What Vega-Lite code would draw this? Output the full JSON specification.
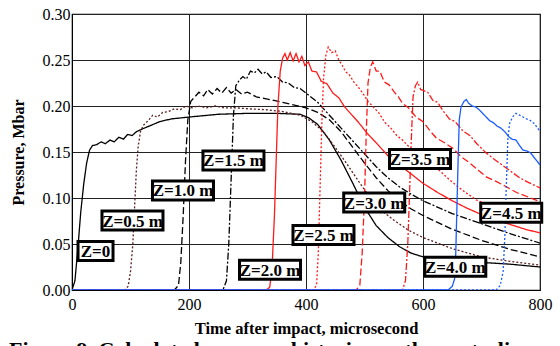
{
"$schema":"https://vega.github.io/schema/vega-lite/v6.json",
"width":468,"height":276,
"autosize":{"type":"none"},
"padding":{"left":72,"top":14,"right":20,"bottom":56},
"config":{"view":{"stroke":"#000","strokeWidth":1.2},"font":"Liberation Serif",
"axis":{"labelFont":"Liberation Serif","titleFont":"Liberation Serif","labelColor":"#000","titleColor":"#000","domainColor":"#000","gridColor":"#222","gridOpacity":1,"gridWidth":1,"ticks":false}},
"title":{"text":"Figure 9. Calculated pressure histories on the centerline","orient":"bottom","anchor":"start","frame":"group","dx":-63,"offset":3,"fontSize":22,"fontWeight":"bold","font":"Liberation Serif","color":"#000"},
"datasets":{
"curves":[
{"z":0,"t":0,"p":0},{"z":0,"t":5,"p":0.01},{"z":0,"t":10,"p":0.045},{"z":0,"t":15,"p":0.085},{"z":0,"t":20,"p":0.115},{"z":0,"t":25,"p":0.138},{"z":0,"t":30,"p":0.152},{"z":0,"t":35,"p":0.157},{"z":0,"t":42,"p":0.158},{"z":0,"t":50,"p":0.161},{"z":0,"t":57,"p":0.159},{"z":0,"t":65,"p":0.163},{"z":0,"t":72,"p":0.161},{"z":0,"t":80,"p":0.166},{"z":0,"t":88,"p":0.164},{"z":0,"t":95,"p":0.169},{"z":0,"t":103,"p":0.168},{"z":0,"t":110,"p":0.172},{"z":0,"t":120,"p":0.175},{"z":0,"t":135,"p":0.179},{"z":0,"t":150,"p":0.183},{"z":0,"t":170,"p":0.186},{"z":0,"t":200,"p":0.188},{"z":0,"t":250,"p":0.191},{"z":0,"t":300,"p":0.192},{"z":0,"t":350,"p":0.192},{"z":0,"t":390,"p":0.191},{"z":0,"t":405,"p":0.187},{"z":0,"t":420,"p":0.18},{"z":0,"t":440,"p":0.163},{"z":0,"t":460,"p":0.141},{"z":0,"t":480,"p":0.116},{"z":0,"t":500,"p":0.09},{"z":0,"t":520,"p":0.07},{"z":0,"t":540,"p":0.057},{"z":0,"t":560,"p":0.047},{"z":0,"t":580,"p":0.04},{"z":0,"t":600,"p":0.036},{"z":0,"t":650,"p":0.033},{"z":0,"t":700,"p":0.03},{"z":0,"t":750,"p":0.028},{"z":0,"t":800,"p":0.025},
{"z":0.5,"t":0,"p":0},{"z":0.5,"t":90,"p":0},{"z":0.5,"t":96,"p":0.004},{"z":0.5,"t":100,"p":0.02},{"z":0.5,"t":104,"p":0.05},{"z":0.5,"t":107,"p":0.09},{"z":0.5,"t":110,"p":0.13},{"z":0.5,"t":113,"p":0.155},{"z":0.5,"t":117,"p":0.172},{"z":0.5,"t":122,"p":0.179},{"z":0.5,"t":130,"p":0.184},{"z":0.5,"t":138,"p":0.19},{"z":0.5,"t":146,"p":0.188},{"z":0.5,"t":155,"p":0.193},{"z":0.5,"t":165,"p":0.194},{"z":0.5,"t":175,"p":0.197},{"z":0.5,"t":185,"p":0.196},{"z":0.5,"t":195,"p":0.2},{"z":0.5,"t":205,"p":0.198},{"z":0.5,"t":215,"p":0.2},{"z":0.5,"t":230,"p":0.198},{"z":0.5,"t":245,"p":0.2},{"z":0.5,"t":260,"p":0.198},{"z":0.5,"t":280,"p":0.198},{"z":0.5,"t":300,"p":0.197},{"z":0.5,"t":330,"p":0.196},{"z":0.5,"t":360,"p":0.194},{"z":0.5,"t":390,"p":0.19},{"z":0.5,"t":410,"p":0.183},{"z":0.5,"t":430,"p":0.172},{"z":0.5,"t":450,"p":0.155},{"z":0.5,"t":470,"p":0.137},{"z":0.5,"t":490,"p":0.118},{"z":0.5,"t":510,"p":0.1},{"z":0.5,"t":530,"p":0.086},{"z":0.5,"t":550,"p":0.076},{"z":0.5,"t":575,"p":0.065},{"z":0.5,"t":600,"p":0.057},{"z":0.5,"t":650,"p":0.045},{"z":0.5,"t":700,"p":0.036},{"z":0.5,"t":750,"p":0.031},{"z":0.5,"t":800,"p":0.027},
{"z":1,"t":0,"p":0},{"z":1,"t":175,"p":0},{"z":1,"t":182,"p":0.005},{"z":1,"t":186,"p":0.03},{"z":1,"t":190,"p":0.08},{"z":1,"t":194,"p":0.14},{"z":1,"t":198,"p":0.185},{"z":1,"t":203,"p":0.205},{"z":1,"t":210,"p":0.21},{"z":1,"t":217,"p":0.215},{"z":1,"t":225,"p":0.211},{"z":1,"t":232,"p":0.218},{"z":1,"t":240,"p":0.213},{"z":1,"t":248,"p":0.219},{"z":1,"t":256,"p":0.214},{"z":1,"t":264,"p":0.22},{"z":1,"t":272,"p":0.214},{"z":1,"t":280,"p":0.218},{"z":1,"t":290,"p":0.213},{"z":1,"t":300,"p":0.215},{"z":1,"t":315,"p":0.21},{"z":1,"t":330,"p":0.208},{"z":1,"t":345,"p":0.206},{"z":1,"t":360,"p":0.204},{"z":1,"t":380,"p":0.201},{"z":1,"t":400,"p":0.198},{"z":1,"t":420,"p":0.193},{"z":1,"t":440,"p":0.185},{"z":1,"t":460,"p":0.172},{"z":1,"t":480,"p":0.155},{"z":1,"t":500,"p":0.138},{"z":1,"t":520,"p":0.122},{"z":1,"t":540,"p":0.108},{"z":1,"t":560,"p":0.097},{"z":1,"t":580,"p":0.088},{"z":1,"t":600,"p":0.081},{"z":1,"t":650,"p":0.066},{"z":1,"t":700,"p":0.054},{"z":1,"t":750,"p":0.044},{"z":1,"t":800,"p":0.036},
{"z":1.5,"t":0,"p":0},{"z":1.5,"t":258,"p":0},{"z":1.5,"t":264,"p":0.01},{"z":1.5,"t":268,"p":0.05},{"z":1.5,"t":272,"p":0.12},{"z":1.5,"t":276,"p":0.19},{"z":1.5,"t":280,"p":0.222},{"z":1.5,"t":286,"p":0.228},{"z":1.5,"t":292,"p":0.232},{"z":1.5,"t":298,"p":0.229},{"z":1.5,"t":305,"p":0.238},{"z":1.5,"t":312,"p":0.236},{"z":1.5,"t":318,"p":0.24},{"z":1.5,"t":325,"p":0.235},{"z":1.5,"t":332,"p":0.237},{"z":1.5,"t":340,"p":0.231},{"z":1.5,"t":350,"p":0.232},{"z":1.5,"t":360,"p":0.226},{"z":1.5,"t":370,"p":0.225},{"z":1.5,"t":380,"p":0.22},{"z":1.5,"t":390,"p":0.219},{"z":1.5,"t":400,"p":0.214},{"z":1.5,"t":420,"p":0.204},{"z":1.5,"t":440,"p":0.19},{"z":1.5,"t":460,"p":0.176},{"z":1.5,"t":480,"p":0.162},{"z":1.5,"t":500,"p":0.148},{"z":1.5,"t":520,"p":0.134},{"z":1.5,"t":540,"p":0.122},{"z":1.5,"t":560,"p":0.112},{"z":1.5,"t":580,"p":0.104},{"z":1.5,"t":600,"p":0.097},{"z":1.5,"t":650,"p":0.083},{"z":1.5,"t":700,"p":0.072},{"z":1.5,"t":750,"p":0.061},{"z":1.5,"t":800,"p":0.051},
{"z":2,"t":0,"p":0},{"z":2,"t":332,"p":0},{"z":2,"t":338,"p":0.003},{"z":2,"t":342,"p":0.025},{"z":2,"t":346,"p":0.08},{"z":2,"t":349,"p":0.14},{"z":2,"t":352,"p":0.2},{"z":2,"t":356,"p":0.238},{"z":2,"t":360,"p":0.252},{"z":2,"t":364,"p":0.257},{"z":2,"t":368,"p":0.25},{"z":2,"t":373,"p":0.258},{"z":2,"t":378,"p":0.249},{"z":2,"t":383,"p":0.257},{"z":2,"t":388,"p":0.248},{"z":2,"t":393,"p":0.254},{"z":2,"t":398,"p":0.244},{"z":2,"t":404,"p":0.248},{"z":2,"t":410,"p":0.238},{"z":2,"t":418,"p":0.237},{"z":2,"t":426,"p":0.227},{"z":2,"t":436,"p":0.224},{"z":2,"t":446,"p":0.214},{"z":2,"t":456,"p":0.209},{"z":2,"t":466,"p":0.199},{"z":2,"t":476,"p":0.192},{"z":2,"t":490,"p":0.182},{"z":2,"t":505,"p":0.17},{"z":2,"t":520,"p":0.16},{"z":2,"t":540,"p":0.146},{"z":2,"t":560,"p":0.136},{"z":2,"t":580,"p":0.126},{"z":2,"t":600,"p":0.116},{"z":2,"t":625,"p":0.106},{"z":2,"t":650,"p":0.097},{"z":2,"t":675,"p":0.089},{"z":2,"t":700,"p":0.082},{"z":2,"t":725,"p":0.076},{"z":2,"t":750,"p":0.071},{"z":2,"t":775,"p":0.066},{"z":2,"t":800,"p":0.062},
{"z":2.5,"t":0,"p":0},{"z":2.5,"t":412,"p":0},{"z":2.5,"t":418,"p":0.005},{"z":2.5,"t":421,"p":0.04},{"z":2.5,"t":424,"p":0.11},{"z":2.5,"t":427,"p":0.18},{"z":2.5,"t":430,"p":0.23},{"z":2.5,"t":434,"p":0.255},{"z":2.5,"t":438,"p":0.264},{"z":2.5,"t":444,"p":0.258},{"z":2.5,"t":450,"p":0.26},{"z":2.5,"t":456,"p":0.25},{"z":2.5,"t":462,"p":0.244},{"z":2.5,"t":468,"p":0.237},{"z":2.5,"t":474,"p":0.234},{"z":2.5,"t":482,"p":0.226},{"z":2.5,"t":490,"p":0.22},{"z":2.5,"t":498,"p":0.213},{"z":2.5,"t":506,"p":0.205},{"z":2.5,"t":515,"p":0.199},{"z":2.5,"t":525,"p":0.192},{"z":2.5,"t":535,"p":0.182},{"z":2.5,"t":545,"p":0.176},{"z":2.5,"t":555,"p":0.168},{"z":2.5,"t":565,"p":0.163},{"z":2.5,"t":577,"p":0.155},{"z":2.5,"t":590,"p":0.149},{"z":2.5,"t":600,"p":0.143},{"z":2.5,"t":615,"p":0.137},{"z":2.5,"t":628,"p":0.13},{"z":2.5,"t":645,"p":0.12},{"z":2.5,"t":660,"p":0.112},{"z":2.5,"t":675,"p":0.105},{"z":2.5,"t":691,"p":0.098},{"z":2.5,"t":710,"p":0.093},{"z":2.5,"t":730,"p":0.088},{"z":2.5,"t":750,"p":0.084},{"z":2.5,"t":775,"p":0.079},{"z":2.5,"t":800,"p":0.075},
{"z":3,"t":0,"p":0},{"z":3,"t":486,"p":0},{"z":3,"t":492,"p":0.005},{"z":3,"t":496,"p":0.04},{"z":3,"t":500,"p":0.1},{"z":3,"t":503,"p":0.17},{"z":3,"t":506,"p":0.225},{"z":3,"t":510,"p":0.242},{"z":3,"t":514,"p":0.248},{"z":3,"t":520,"p":0.238},{"z":3,"t":526,"p":0.238},{"z":3,"t":534,"p":0.226},{"z":3,"t":542,"p":0.223},{"z":3,"t":551,"p":0.215},{"z":3,"t":558,"p":0.21},{"z":3,"t":565,"p":0.203},{"z":3,"t":575,"p":0.198},{"z":3,"t":588,"p":0.188},{"z":3,"t":600,"p":0.183},{"z":3,"t":612,"p":0.173},{"z":3,"t":623,"p":0.165},{"z":3,"t":637,"p":0.16},{"z":3,"t":651,"p":0.154},{"z":3,"t":665,"p":0.145},{"z":3,"t":680,"p":0.138},{"z":3,"t":695,"p":0.13},{"z":3,"t":708,"p":0.123},{"z":3,"t":725,"p":0.118},{"z":3,"t":740,"p":0.113},{"z":3,"t":760,"p":0.106},{"z":3,"t":780,"p":0.101},{"z":3,"t":800,"p":0.096},
{"z":3.5,"t":0,"p":0},{"z":3.5,"t":565,"p":0},{"z":3.5,"t":570,"p":0.01},{"z":3.5,"t":574,"p":0.05},{"z":3.5,"t":577,"p":0.105},{"z":3.5,"t":580,"p":0.163},{"z":3.5,"t":583,"p":0.21},{"z":3.5,"t":587,"p":0.222},{"z":3.5,"t":591,"p":0.226},{"z":3.5,"t":596,"p":0.218},{"z":3.5,"t":600,"p":0.217},{"z":3.5,"t":608,"p":0.215},{"z":3.5,"t":617,"p":0.206},{"z":3.5,"t":625,"p":0.204},{"z":3.5,"t":634,"p":0.195},{"z":3.5,"t":645,"p":0.186},{"z":3.5,"t":655,"p":0.183},{"z":3.5,"t":668,"p":0.173},{"z":3.5,"t":680,"p":0.168},{"z":3.5,"t":692,"p":0.159},{"z":3.5,"t":708,"p":0.149},{"z":3.5,"t":720,"p":0.143},{"z":3.5,"t":735,"p":0.136},{"z":3.5,"t":748,"p":0.13},{"z":3.5,"t":765,"p":0.122},{"z":3.5,"t":780,"p":0.117},{"z":3.5,"t":800,"p":0.111},
{"z":4,"t":0,"p":0},{"z":4,"t":643,"p":0},{"z":4,"t":650,"p":0.004},{"z":4,"t":654,"p":0.012},{"z":4,"t":656,"p":0.04},{"z":4,"t":658,"p":0.09},{"z":4,"t":660,"p":0.14},{"z":4,"t":662,"p":0.185},{"z":4,"t":665,"p":0.199},{"z":4,"t":670,"p":0.205},{"z":4,"t":674,"p":0.207},{"z":4,"t":678,"p":0.203},{"z":4,"t":684,"p":0.2},{"z":4,"t":690,"p":0.199},{"z":4,"t":696,"p":0.196},{"z":4,"t":702,"p":0.192},{"z":4,"t":708,"p":0.188},{"z":4,"t":714,"p":0.184},{"z":4,"t":720,"p":0.182},{"z":4,"t":727,"p":0.178},{"z":4,"t":733,"p":0.176},{"z":4,"t":740,"p":0.172},{"z":4,"t":746,"p":0.167},{"z":4,"t":752,"p":0.164},{"z":4,"t":759,"p":0.163},{"z":4,"t":765,"p":0.157},{"z":4,"t":771,"p":0.152},{"z":4,"t":778,"p":0.151},{"z":4,"t":784,"p":0.149},{"z":4,"t":790,"p":0.144},{"z":4,"t":800,"p":0.136},
{"z":4.5,"t":0,"p":0},{"z":4.5,"t":725,"p":0},{"z":4.5,"t":732,"p":0.005},{"z":4.5,"t":737,"p":0.02},{"z":4.5,"t":740,"p":0.06},{"z":4.5,"t":742,"p":0.105},{"z":4.5,"t":745,"p":0.163},{"z":4.5,"t":748,"p":0.181},{"z":4.5,"t":753,"p":0.188},{"z":4.5,"t":759,"p":0.192},{"z":4.5,"t":765,"p":0.19},{"z":4.5,"t":771,"p":0.188},{"z":4.5,"t":777,"p":0.186},{"z":4.5,"t":782,"p":0.185},{"z":4.5,"t":790,"p":0.181},{"z":4.5,"t":796,"p":0.176},{"z":4.5,"t":800,"p":0.172}
],
"labels":[
{"label":"Z=0","t":40.2,"p":0.0424},
{"label":"Z=0.5 m","t":103.4,"p":0.0755},
{"label":"Z=1.0 m","t":189.7,"p":0.1082},
{"label":"Z=1.5 m","t":276,"p":0.1408},
{"label":"Z=2.0 m","t":338.5,"p":0.0221},
{"label":"Z=2.5 m","t":429.9,"p":0.0598},
{"label":"Z=3.0 m","t":516.6,"p":0.0951},
{"label":"Z=3.5 m","t":594.9,"p":0.1424},
{"label":"Z=4.0 m","t":655.2,"p":0.0253},
{"label":"Z=4.5 m","t":750.8,"p":0.0839}
]},
"encoding":{
"x":{"field":"t","type":"quantitative","scale":{"domain":[0,800],"nice":false},"axis":{"values":[0,200,400,600,800],"title":"Time after impact, microsecond","titleFontSize":16.5,"titleFontWeight":"bold","titlePadding":8,"labelFontSize":16,"labelPadding":6,"labelFlush":false}},
"y":{"field":"p","type":"quantitative","scale":{"domain":[0,0.3],"nice":false},"axis":{"values":[0,0.05,0.1,0.15,0.2,0.25,0.3],"format":".2f","title":"Pressure, Mbar","titleFontSize":16,"titleFontWeight":"bold","titlePadding":16,"labelFontSize":16,"labelPadding":2,"labelFlush":false}}
},
"layer":[
{"data":{"name":"curves"},"transform":[{"filter":{"field":"z","oneOf":[0,0.5,1,1.5]}}],"mark":{"type":"line","strokeWidth":1.3,"clip":true},
"encoding":{
"color":{"field":"z","type":"nominal","scale":{"domain":[0,0.5,1,1.5,2,2.5,3,3.5,4,4.5],"range":["#000000","#5c1f1f","#000000","#000000","#ff1a1a","#ff1a1a","#ff1a1a","#ff1a1a","#1a5cff","#1a5cff"]},"legend":null},
"strokeDash":{"field":"z","type":"nominal","scale":{"domain":[0,0.5,1,1.5,2,2.5,3,3.5,4,4.5],"range":[[1,0],[2,2],[7,3],[7,2,2,2],[1,0],[2,2],[7,3],[7,2,2,2],[1,0],[2,2]]},"legend":null}}},
{"data":{"name":"curves"},"transform":[{"filter":{"field":"z","oneOf":[2,2.5,3,3.5]}}],"mark":{"type":"line","strokeWidth":1.3,"clip":true},
"encoding":{
"color":{"field":"z","type":"nominal","legend":null},
"strokeDash":{"field":"z","type":"nominal","legend":null}}},
{"data":{"name":"curves"},"transform":[{"filter":{"field":"z","oneOf":[4,4.5]}}],"mark":{"type":"line","strokeWidth":1.3,"clip":true},
"encoding":{
"color":{"field":"z","type":"nominal","legend":null},
"strokeDash":{"field":"z","type":"nominal","legend":null}}},
{"data":{"name":"labels"},"transform":[{"filter":"datum.label != 'Z=0'"}],"mark":{"type":"point","shape":"M-1,-0.311L1,-0.311L1,0.311L-1,0.311Z","size":3721,"filled":false,"fill":"#ffffff","fillOpacity":1,"stroke":"#000000","strokeWidth":3,"opacity":1}},
{"data":{"name":"labels"},"transform":[{"filter":"datum.label == 'Z=0'"}],"mark":{"type":"point","shape":"M-1,-0.543L1,-0.543L1,0.543L-1,0.543Z","size":1225,"filled":false,"fill":"#ffffff","fillOpacity":1,"stroke":"#000000","strokeWidth":3,"opacity":1}},
{"data":{"name":"labels"},"mark":{"type":"text","font":"Liberation Serif","fontSize":17,"fontWeight":"bold","color":"#000","align":"center","baseline":"middle","dy":1},"encoding":{"text":{"field":"label"}}}
]
}
